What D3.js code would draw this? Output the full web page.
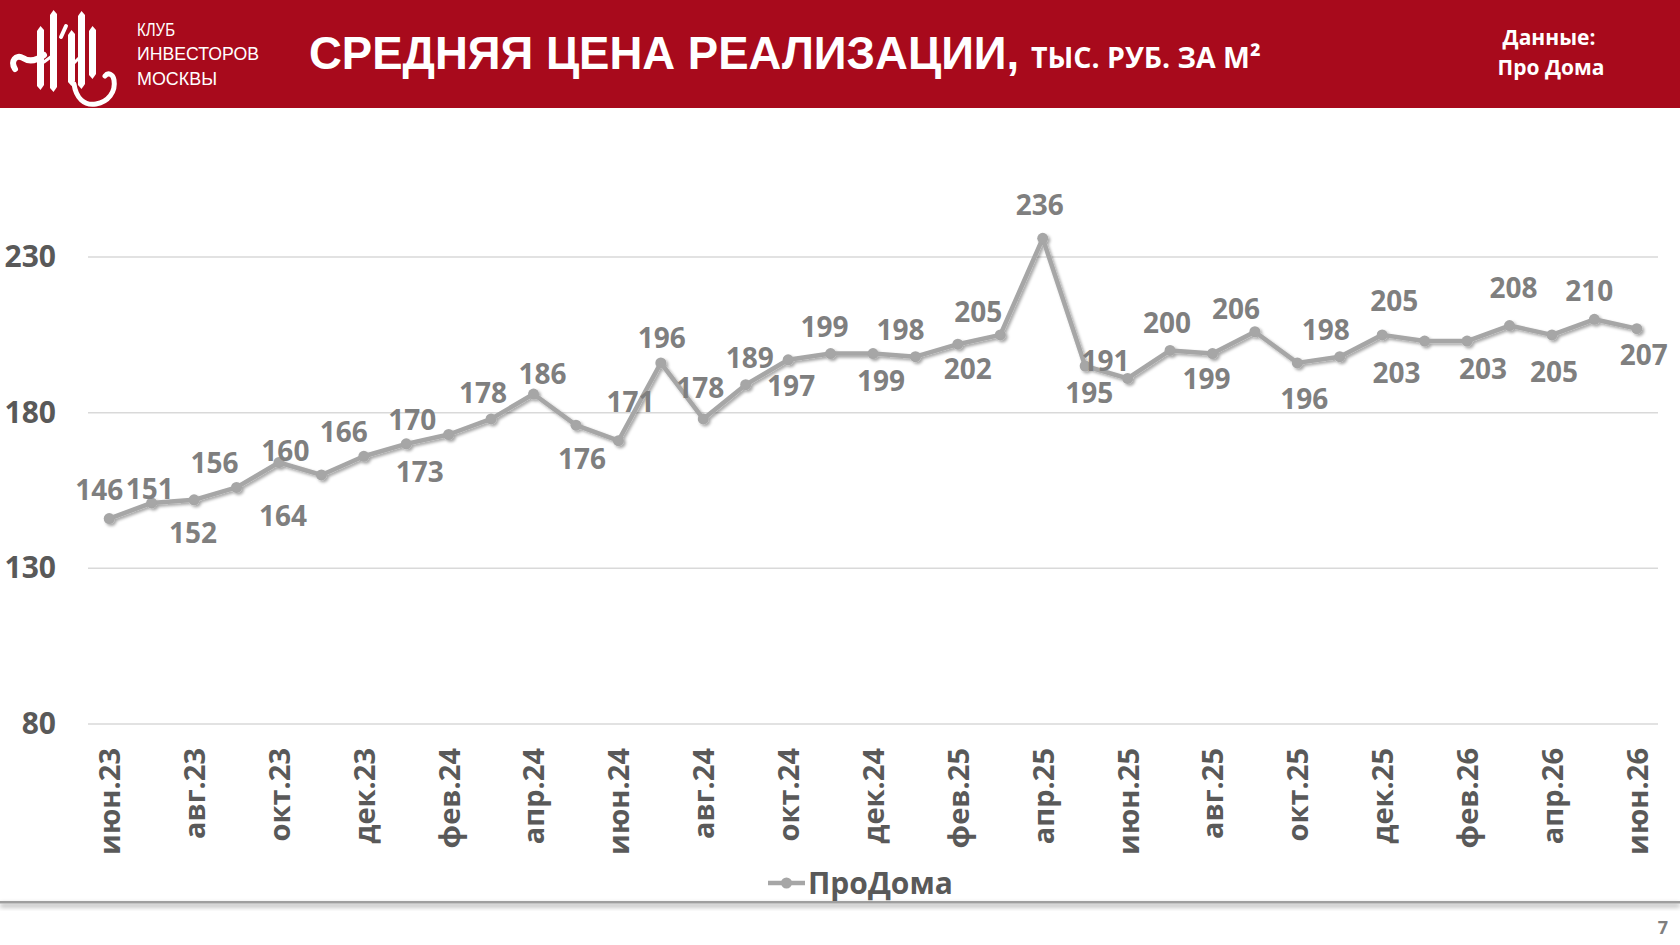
<!DOCTYPE html>
<html>
<head>
<meta charset="utf-8">
<script src="https://cdn.jsdelivr.net/npm/d3@7"></script>
<style>
  body { margin: 0; background: #fff; overflow: hidden; }
  svg { display: block; }
  .chart-text { font-family: "Open Sans", "Noto Sans", sans-serif; font-weight: 700; }
</style>
</head>
<body>
<svg id="slide" width="1680" height="945"></svg>
<script>
// ---- данные ----
const months = [
  'июн.23','июл.23','авг.23','сен.23','окт.23','ноя.23','дек.23',
  'янв.24','фев.24','мар.24','апр.24','май.24','июн.24','июл.24','авг.24','сен.24','окт.24','ноя.24','дек.24',
  'янв.25','фев.25','мар.25','апр.25','май.25','июн.25','июл.25','авг.25','сен.25','окт.25','ноя.25','дек.25',
  'янв.26','фев.26','мар.26','апр.26','май.26','июн.26'
];
const prices = [
  146, 151, 152, 156, 164, 160, 166,
  170, 173, 178, 186, 176, 171, 196, 178, 189, 197, 199, 199,
  198, 202, 205, 236, 195, 191, 200, 199, 206, 196, 198, 205,
  203, 203, 208, 205, 210, 207
];
const yTicks = [80, 130, 180, 230];
const seriesName = 'ПроДома';

// смещения подписей данных (как их раскидали на слайде), px
const labelNudge = [
  [-10,-29], [-2,-14], [-1,33], [-22,-24], [4,53], [-36,-24], [-20,-24],
  [6,-24], [-29,37], [-8,-26], [9,-20], [6,34], [12,-39], [1,-25], [-3,-31],
  [4,-27], [3,26], [-6,-27], [8,27], [-15,-27], [10,25], [-22,-23], [-3,-33],
  [4,27], [-22,-18], [-3,-28], [-6,25], [-19,-23], [7,36], [-14,-27], [12,-34],
  [-28,32], [16,28], [4,-38], [2,37], [-5,-28], [7,26]
];

const W = 1680, H = 945;
const red = '#a80a1c';
const lineColor = '#a6a6a6';

const svg = d3.select('#slide');

// тени
const defs = svg.append('defs');
defs.append('filter').attr('id', 'lineShadow')
    .attr('x', '-5%').attr('y', '-20%').attr('width', '110%').attr('height', '140%')
  .append('feDropShadow')
    .attr('dx', 2).attr('dy', 2).attr('stdDeviation', 1.5)
    .attr('flood-color', '#000').attr('flood-opacity', 0.35);
defs.append('filter').attr('id', 'barShadow')
    .attr('x', '-5%').attr('y', '-200%').attr('width', '110%').attr('height', '600%')
  .append('feDropShadow')
    .attr('dx', 0).attr('dy', 3).attr('stdDeviation', 2.5)
    .attr('flood-color', '#000').attr('flood-opacity', 0.45);

// ---- шапка ----
svg.append('rect').attr('x', 0).attr('y', 0).attr('width', W).attr('height', 108).attr('fill', red);

// логотип (упрощённо, вязь из вертикальных штрихов)
const logo = svg.append('g').attr('fill', '#fff');
// штрих с косыми концами
function bar(x, y1, y2, w) {
  return `M${x},${y1 + 3} L${x + w / 2},${y1 - 2} L${x + w},${y1 + 2} L${x + w},${y2 - 3} L${x + w / 2},${y2 + 2} L${x},${y2 - 2} Z`;
}
[[37, 28, 88, 7], [50, 12, 90, 7], [68, 32, 84, 7], [78, 13, 87, 7], [89, 28, 77, 7]]
  .forEach(b => logo.append('path').attr('d', bar(...b)));
const logoStroke = logo.append('g').attr('fill', 'none').attr('stroke', '#fff')
    .attr('stroke-linecap', 'round').attr('stroke-linejoin', 'round');
logoStroke.append('path').attr('stroke-width', 6)
    .attr('d', 'M15,69 C10,61 16,54 23,58 C29,62 36,61 44,55');
logoStroke.append('path').attr('stroke-width', 3).attr('d', 'M44,62 L52,56 M71,66 L80,57');
logoStroke.append('path').attr('stroke-width', 4).attr('d', 'M61,37 L66,26');
logoStroke.append('path').attr('stroke-width', 5)
    .attr('d', 'M74,84 C76,98 84,106 96,104 C108,102 116,92 114,80 C113,74 108,72 105,76');

const club = svg.append('g').attr('fill', '#fff')
    .style('font-family', '"Liberation Sans Narrow", "Liberation Sans", sans-serif')
    .style('font-size', '19px');
[['КЛУБ', 36, 38], ['ИНВЕСТОРОВ', 60, 122], ['МОСКВЫ', 85, 80]].forEach(([t, y, w]) => {
  club.append('text').attr('x', 137).attr('y', y).attr('textLength', w)
      .attr('lengthAdjust', 'spacingAndGlyphs').text(t);
});

svg.append('text').attr('x', 309).attr('y', 69).attr('fill', '#fff')
    .style('font-family', '"Liberation Sans", Arial, sans-serif').style('font-weight', 700)
    .style('font-size', '45.5px')
    .text('СРЕДНЯЯ ЦЕНА РЕАЛИЗАЦИИ,');
svg.append('text').attr('class', 'chart-text').attr('x', 1031).attr('y', 68).attr('fill', '#fff')
    .style('font-size', '28.5px')
    .text('ТЫС. РУБ. ЗА М²');

svg.append('text').attr('class', 'chart-text').attr('x', 1549).attr('y', 45)
    .attr('fill', '#fff').attr('text-anchor', 'middle').style('font-size', '21px').text('Данные:');
svg.append('text').attr('class', 'chart-text').attr('x', 1551).attr('y', 75)
    .attr('fill', '#fff').attr('text-anchor', 'middle').style('font-size', '21px').text('Про Дома');

// ---- график ----
const plot = { left: 88, right: 1658, bottom: 724 };
const x = d3.scalePoint().domain(months).range([plot.left, plot.right]).padding(0.5);
const y = d3.scaleLinear().domain([80, 250]).range([plot.bottom, plot.bottom - 170 * 3.113]);

// сетка
svg.append('g').selectAll('line').data(yTicks).join('line')
    .attr('x1', plot.left).attr('x2', plot.right)
    .attr('y1', d => y(d)).attr('y2', d => y(d))
    .attr('stroke', '#d9d9d9').attr('stroke-width', 1.5);

// ось Y
const yAxis = svg.append('g').attr('transform', 'translate(56,0)')
    .call(d3.axisLeft(y).tickValues(yTicks).tickSize(0).tickPadding(0));
yAxis.select('.domain').remove();
yAxis.selectAll('text').attr('class', 'chart-text').attr('fill', '#595959')
    .style('font-size', '30px');

// ось X — подписи через месяц, повернуты
const xAxis = svg.append('g').attr('transform', `translate(0,${plot.bottom})`)
    .call(d3.axisBottom(x).tickValues(months.filter((d, i) => i % 2 === 0)).tickSize(0));
xAxis.select('.domain').remove();
xAxis.selectAll('text').attr('class', 'chart-text').attr('fill', '#595959')
    .style('font-size', '29px')
    .attr('transform', 'rotate(-90)')
    .attr('text-anchor', 'end')
    .attr('x', -24).attr('y', 0).attr('dy', '0.36em');

// линия
const pts = months.map((m, i) => ({ m, v: prices[i], i }));
const series = svg.append('g').attr('filter', 'url(#lineShadow)');
series.append('path').datum(pts)
    .attr('fill', 'none').attr('stroke', lineColor).attr('stroke-width', 4.5)
    .attr('stroke-linejoin', 'round')
    .attr('d', d3.line().x(d => x(d.m)).y(d => y(d.v)));
series.selectAll('circle').data(pts).join('circle')
    .attr('cx', d => x(d.m)).attr('cy', d => y(d.v)).attr('r', 5.5)
    .attr('fill', lineColor);

// подписи данных
svg.append('g').selectAll('text').data(pts).join('text')
    .attr('class', 'chart-text')
    .attr('x', d => x(d.m) + labelNudge[d.i][0])
    .attr('y', d => y(d.v) + labelNudge[d.i][1])
    .attr('dy', '0.36em').attr('text-anchor', 'middle')
    .attr('fill', '#7f7f7f').style('font-size', '28px')
    .text(d => d.v);

// легенда
const lg = svg.append('g').attr('transform', 'translate(768,883)');
lg.append('line').attr('x1', 0).attr('x2', 37).attr('stroke', lineColor).attr('stroke-width', 4.5);
lg.append('circle').attr('cx', 18.5).attr('r', 5.5).attr('fill', lineColor);
lg.append('text').attr('class', 'chart-text').attr('x', 40).attr('dy', '0.36em')
    .attr('fill', '#595959').style('font-size', '30px').text(seriesName);

// нижняя полоса с тенью
svg.append('rect').attr('x', 0).attr('y', 901).attr('width', W).attr('height', 2.5)
    .attr('fill', '#9e9e9e').attr('filter', 'url(#barShadow)');

svg.append('text').attr('class', 'chart-text').attr('x', 1668).attr('y', 934)
    .attr('text-anchor', 'end').attr('fill', '#7f7f7f').style('font-size', '18px').text('7');
</script>
</body>
</html>
